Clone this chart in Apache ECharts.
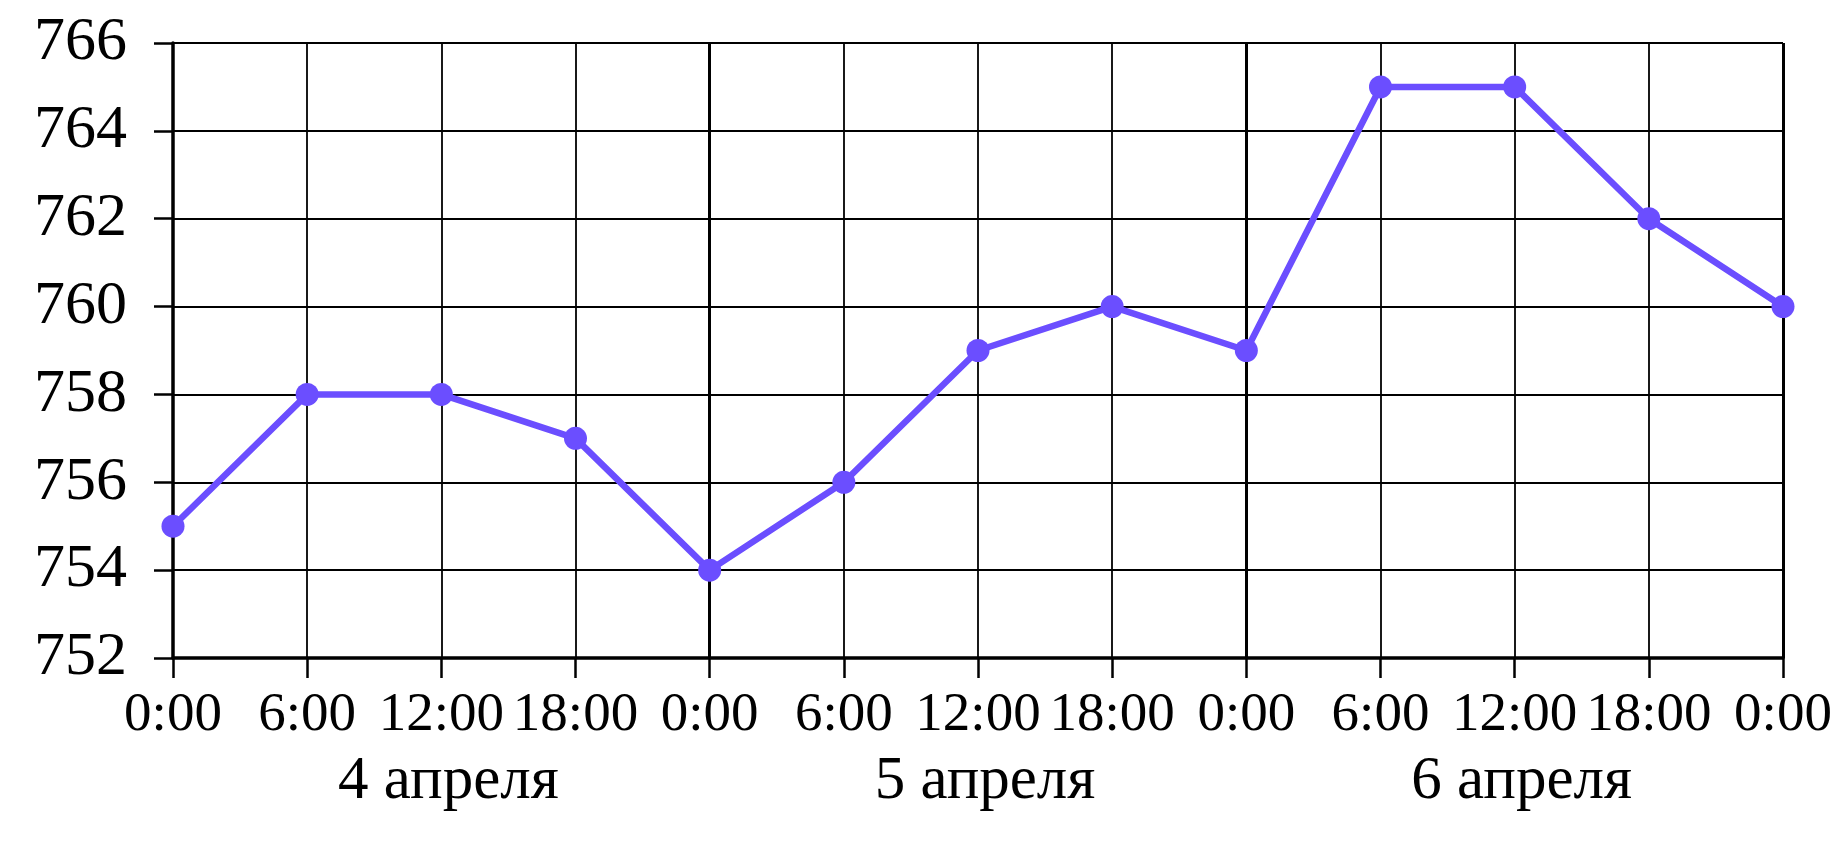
<!DOCTYPE html>
<html>
<head>
<meta charset="utf-8">
<script src="https://cdn.jsdelivr.net/npm/echarts@6/dist/echarts.min.js"></script>
<style>
  html, body { margin: 0; padding: 0; background: #fff; }
  #chart { width: 1842px; height: 854px; }
</style>
</head>
<body>
<div id="chart"></div>
<script>
// тики по оси X (каждые 6 часов)
var hourLabels = ['0:00', '6:00', '12:00', '18:00', '0:00', '6:00', '12:00', '18:00', '0:00', '6:00', '12:00', '18:00', '0:00'];
// подписи дней
var dayLabels = ['4 апреля', '5 апреля', '6 апреля'];
// границы суток (индексы тиков)
var dayBoundaries = [4, 8, 12];
// давление, мм рт. ст.
var pressure = [755, 758, 758, 757, 754, 756, 759, 760, 759, 765, 765, 762, 760];

var yMin = 752, yMax = 766, yStep = 2;

var chart = echarts.init(document.getElementById('chart'));
var font = '"Liberation Serif", "Times New Roman", serif';

var option = {
  animation: false,
  backgroundColor: '#fff',
  grid: {
    left: 173,
    right: 59,
    top: 43,
    bottom: 196
  },
  xAxis: [{
    type: 'value',
    min: 0,
    max: hourLabels.length - 1,
    interval: 1,
    axisLine: { lineStyle: { color: '#000', width: 3.5 } },
    axisTick: { show: true, length: 20, lineStyle: { color: '#000', width: 2.5 } },
    axisLabel: {
      color: '#000',
      fontFamily: font,
      fontSize: 55,
      margin: 30,
      formatter: function (v) { return hourLabels[v]; }
    },
    splitLine: { show: true, lineStyle: { color: '#000', width: 1.8 } }
  }, {
    // подписи дат под часами
    type: 'category',
    position: 'bottom',
    offset: 62,
    data: dayLabels,
    boundaryGap: true,
    axisLine: { show: false },
    axisTick: { show: false },
    axisLabel: {
      color: '#000',
      fontFamily: font,
      fontSize: 61,
      margin: 31,
      padding: [0, 0, 0, 14]
    },
    splitLine: { show: false }
  }],
  yAxis: {
    type: 'value',
    min: yMin,
    max: yMax,
    interval: yStep,
    axisLine: { show: true, lineStyle: { color: '#000', width: 3.5 } },
    axisTick: { show: true, length: 19, lineStyle: { color: '#000', width: 2.5 } },
    axisLabel: {
      color: '#000',
      fontFamily: font,
      fontSize: 62,
      margin: 46
    },
    splitLine: { show: true, lineStyle: { color: '#000', width: 1.8 } }
  },
  series: [{
    type: 'line',
    xAxisIndex: 0,
    data: pressure.map(function (v, i) { return [i, v]; }),
    symbol: 'circle',
    symbolSize: 23,
    lineStyle: { color: '#6B4EFF', width: 6.5 },
    itemStyle: { color: '#6B4EFF' },
    markLine: {
      silent: true,
      z: 1,
      symbol: 'none',
      label: { show: false },
      lineStyle: { color: '#000', width: 3, type: 'solid' },
      data: dayBoundaries.map(function (d) { return { xAxis: d }; })
    }
  }]
};

chart.setOption(option);
</script>
</body>
</html>
